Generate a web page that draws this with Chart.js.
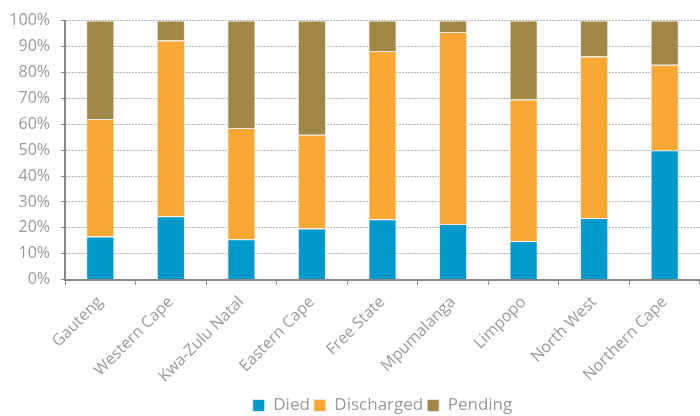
<!DOCTYPE html>
<html>
<head>
<meta charset="utf-8">
<script src="https://cdn.jsdelivr.net/npm/chart.js@4/dist/chart.umd.min.js"></script>
<style>
  html, body { margin: 0; padding: 0; background: #fff; overflow: hidden; }
  #wrap { width: 700px; height: 416px; }
</style>
</head>
<body>
<div id="wrap"><canvas id="myChart" width="700" height="416"></canvas></div>
<script>
// provinces
const provinces = ["Gauteng", "Western Cape", "Kwa-Zulu Natal", "Eastern Cape", "Free State",
  "Mpumalanga", "Limpopo", "North West", "Northern Cape"];

// share of cases per outcome, %
const died       = [16.7, 24.5, 15.6, 19.8, 23.3, 21.5, 14.9, 23.8, 50.0];
const discharged = [45.3, 67.8, 42.9, 36.1, 65.0, 74.1, 54.6, 62.3, 33.0];
const pending    = [38.0,  7.7, 41.5, 44.1, 11.7,  4.4, 30.5, 13.9, 17.0];

const yTicks = [0, 10, 20, 30, 40, 50, 60, 70, 80, 90, 100];

const grey = "#9a9a9a";
const font = "'Open Sans', 'Noto Sans', sans-serif";

function series(label, values, color) {
  return {
    label: label,
    data: values,
    backgroundColor: color,
    borderColor: "rgba(235,235,235,0.9)",
    borderWidth: 1,
    barPercentage: 0.4,
    categoryPercentage: 1
  };
}

let myChart = new Chart(document.getElementById('myChart'), {
  type: 'bar',
  data: {
    labels: provinces,
    datasets: [
      series("Died", died, "#0099cc"),
      series("Discharged", discharged, "#f9a834"),
      series("Pending", pending, "#a18846")
    ]
  },
  options: {
    responsive: false,
    animation: false,
    layout: { padding: { top: 16, right: 0, left: 0, bottom: -8 } },
    plugins: {
      tooltip: { enabled: false },
      legend: {
        position: 'bottom',
        fullSize: false,
        labels: {
          boxWidth: 12,
          boxHeight: 12,
          padding: 4,
          color: grey,
          font: { family: font, size: 17 }
        }
      }
    },
    scales: {
      x: {
        stacked: true,
        afterFit: function(axis) {
          // let the y axis alone decide the left edge
          axis.paddingLeft = 0;
          axis.height -= 1;
        },
        grid: {
          offset: true,
          drawOnChartArea: false,
          drawTicks: true,
          tickLength: 5,
          color: "#888"
        },
        border: { color: "#888", width: 2 },
        ticks: {
          color: grey,
          font: { family: font, size: 16 },
          maxRotation: 45,
          minRotation: 45,
          autoSkip: false,
          padding: 8
        }
      },
      y: {
        stacked: true,
        min: 0,
        max: 100,
        afterBuildTicks: function(axis) {
          axis.ticks = yTicks.map(v => ({ value: v }));
        },
        afterFit: function(axis) {
          axis.width = 65;
        },
        grid: {
          color: "#b5b5b5",
          tickLength: 4,
          tickColor: "#888"
        },
        border: { color: "#888", width: 2, dash: [2, 1] },
        ticks: {
          color: grey,
          font: { family: font, size: 16 },
          padding: 11,
          callback: v => v + "%"
        }
      }
    }
  }
});
</script>
</body>
</html>
